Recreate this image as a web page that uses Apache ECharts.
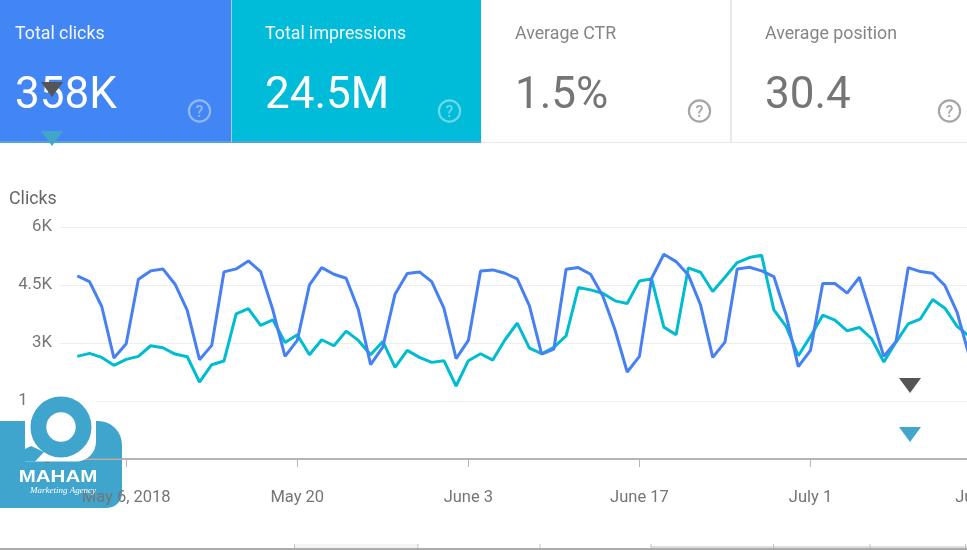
<!DOCTYPE html>
<html><head><meta charset="utf-8">
<style>html,body{margin:0;padding:0;background:#fff}#c{width:967px;height:550px}</style>
<script src="https://cdn.jsdelivr.net/npm/echarts@6/dist/echarts.min.js"></script>
</head><body><div id="c"></div>
<script>
const clicks = [4735,4589,3944,2611,2981,4649,4865,4916,4520,3841,2568,2938,4839,4916,5122,4847,3858,2654,3067,4503,4950,
4778,4675,3858,2439,2895,4262,4796,4839,4589,3901,2594,3067,4865,4890,4804,4658,3961,2714,2843,4907,4950,4778,4219,3342,2250,2654,4675,
5295,5105,4761,3987,2628,3024,4916,4959,4865,4718,3729,2387,2809,4538,4538,4288,4701,3686,2654,3041,4950,4847,4804,4486,3789,2654];
const impressions = [2654,2731,2628,2422,2576,2654,2929,2877,2714,2645,1991,2439,2533,3755,3892,3454,3600,3015,3213,2697,3084,
2929,3308,3067,2697,3041,2370,2809,2628,2499,2542,1888,2542,2723,2559,3084,3514,2869,2723,2886,3187,4434,4374,4288,4090,4021,4606,4658,
3411,3213,4942,4830,4331,4701,5080,5209,5269,3858,3428,2671,3170,3720,3591,3316,3402,3110,2507,3024,3497,3626,4125,3901,3428,3170];
const yTicks = [0,1500,3000,4500,6000];
const yTickLabels = ['0','1.5K','3K','4.5K','6K'];
const xTicks = [4,18,32,46,60,74]; // days since May 2, 2018
const xTickLabels = ['May 6, 2018','May 20','June 3','June 17','July 1','July 15'];
const cardLabels = ['Total clicks','Total impressions','Average CTR','Average position'];
const cardValues = ['358K','24.5M','1.5%','30.4'];
const cardLeft = [0,232,482,732];
const cardWidth = [231,249,248,235];
const cardFill = ['#4285f4','#00bcd8','#ffffff','#ffffff'];
const textLeft = [15,265,515,765];
const helpX = [199.5,449.5,699.5,949.5];
const stubX = [294.5,418,540,651,773.5,870,965.5];
const pair = arr => arr.map((v,i)=>[i, v]);
const font = 'Roboto';
const g = [];
cardLabels.forEach((label,i)=>{
  const on = i<2, x = cardLeft[i];
  g.push({type:'rect',shape:{x,y:0,width:cardWidth[i],height:142},style:{fill:cardFill[i]},z:1});
  g.push({type:'text',x:textLeft[i],y:35,style:{text:label,font:'17.8px '+font,fill:on?'#f4f8ff':'#858585',textVerticalAlign:'middle'},z:2});
  g.push({type:'text',x:textLeft[i],y:97,style:{text:cardValues[i],font:'44px '+font,fill:on?'#ffffff':'#757575',textVerticalAlign:'middle'},z:2});
  const col=on?'rgba(255,255,255,0.42)':'#a6a6a6';
  g.push({type:'circle',shape:{cx:helpX[i],cy:111,r:10.6},style:{fill:'none',stroke:col,lineWidth:2.2},z:2});
  g.push({type:'text',x:helpX[i],y:112.5,style:{text:'?',font:'500 16px '+font,fill:col,textAlign:'center',textVerticalAlign:'middle'},z:2});
});
g.push({type:'rect',shape:{x:0,y:141,width:967,height:2},style:{fill:'#e9e9e9'},z:0});
g.push({type:'rect',shape:{x:0,y:141,width:481,height:2},style:{fill:'#54a3d8'},z:2});
g.push({type:'rect',shape:{x:730,y:0,width:2,height:142},style:{fill:'#e8e8e8'},z:2});
g.push({type:'rect',shape:{x:231,y:0,width:1,height:142},style:{fill:'#a9cdf8'},z:2});
g.push({type:'text',x:9,y:200,style:{text:'Clicks',font:'17.8px '+font,fill:'#666666',textVerticalAlign:'middle'},z:2});
const tri=(x,y,fill)=>g.push({type:'polygon',shape:{points:[[x-11,y],[x+11,y],[x,y+15]]},style:{fill},z:5});
tri(52,82,'#555555'); tri(52,131,'#42a5ca'); tri(910,378,'#555555'); tri(910,427,'#42a5ca');
g.push({type:'rect',shape:{x:295,y:544,width:123,height:4},style:{fill:'#f4f4f4'},z:3});
g.push({type:'rect',shape:{x:651,y:546,width:316,height:2},style:{fill:'#dedede'},z:3});
g.push({type:'rect',shape:{x:0,y:548,width:967,height:2},style:{fill:'#ababab'},z:3});
stubX.forEach(x=>g.push({type:'rect',shape:{x:x-0.5,y:544,width:1,height:4},style:{fill:'#c4c4c4'},z:3}));
// logo
const lc='#3fa5cd';
g.push({type:'rect',shape:{x:0,y:421,width:122,height:87,r:[0,24,15,0]},style:{fill:lc},z:-1});
g.push({type:'rect',shape:{x:27,y:392,width:69,height:40},style:{fill:'#fff'},z:11});
g.push({type:'rect',shape:{x:25,y:421,width:71,height:40.5,r:[0,0,20,0]},style:{fill:'#fff'},z:11});
g.push({type:'polygon',shape:{points:[[25,449],[31,446],[44,452],[35,461.5],[25,461.5]]},style:{fill:lc},z:12});
g.push({type:'circle',shape:{cx:61,cy:427,r:22.6},style:{fill:'none',stroke:lc,lineWidth:15.8},z:13});
g.push({type:'text',x:58,y:477.5,scaleX:1.28,originX:0,originY:0,style:{text:'MAHAM',font:'bold 16px "Liberation Sans"',fill:'#fff',textAlign:'center',textVerticalAlign:'middle'},z:13});
g.push({type:'text',x:63,y:491,style:{text:'Marketing Agency',font:'italic 9px "Liberation Serif"',fill:'#fff',textAlign:'center',textVerticalAlign:'middle'},z:13});

const chart = echarts.init(document.getElementById('c'),null,{renderer:'canvas'});
const pxPerDay=12.22, gridW=1000;
const xMin=-17.3/pxPerDay, xMax=xMin+gridW/pxPerDay;
chart.setOption({
 animation:false,
 backgroundColor:'#fff',
 grid:{left:60,top:227,width:gridW,height:232,outerBoundsMode:'none'},
 xAxis:[{type:'value',min:xMin,max:xMax,offset:14,
   axisLine:{show:false},splitLine:{show:false},
   axisTick:{show:true,length:8,customValues:xTicks,lineStyle:{color:'#b5b5b5',width:1}},
   axisLabel:{show:true,customValues:xTicks,margin:16,hideOverlap:false,color:'#757575',fontFamily:font,fontSize:16.5,
     formatter:v=>xTickLabels[xTicks.indexOf(v)]||''}},
  {type:'value',min:xMin,max:xMax,position:'bottom',axisLine:{show:true,onZero:false,lineStyle:{color:'#9e9e9e',width:1.5}},axisTick:{show:false},axisLabel:{show:false},splitLine:{show:false}}],
 yAxis:{type:'value',min:0,max:6000,interval:1500,
   axisLine:{show:false},axisTick:{show:false},splitLine:{lineStyle:{color:'#eeeeee',width:1}},
   axisLabel:{color:'#757575',fontFamily:font,fontSize:16.8,margin:8,padding:[4,0,0,0],formatter:v=>yTickLabels[yTicks.indexOf(v)]}},
 series:[
  {name:'Impressions',type:'line',data:pair(impressions),showSymbol:false,symbol:'none',lineStyle:{color:'#00bcd0',width:3},z:2},
  {name:'Clicks',type:'line',data:pair(clicks),showSymbol:false,symbol:'none',lineStyle:{color:'#4680f2',width:3},z:3}
 ],
 graphic:g
});
</script></body></html>
